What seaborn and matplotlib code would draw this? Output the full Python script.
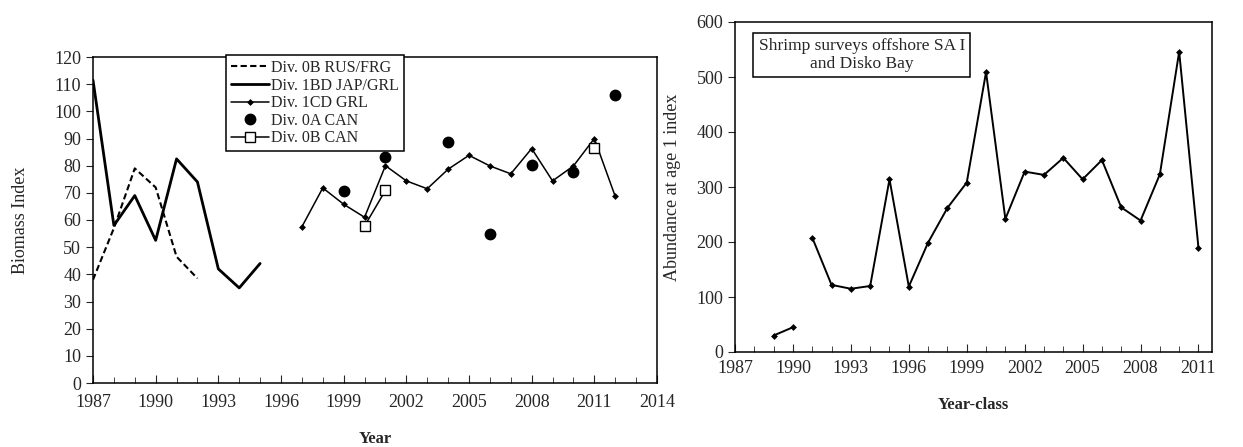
import numpy as np
import pandas as pd
import matplotlib
matplotlib.use('Agg')
import matplotlib.pyplot as plt
from matplotlib.ticker import MultipleLocator
import seaborn as sns

# ---------------------------------------------------------------
# datos
# ---------------------------------------------------------------
years_rus = [1987, 1988, 1989, 1990, 1991, 1992]
rus_frg = [38, 57, 79, 72, 46.5, 38.5]

years_1bd = [1987, 1988, 1989, 1990, 1991, 1992, 1993, 1994, 1995]
jap_grl = [111.5, 58, 69, 52.5, 82.5, 74, 42, 35, 44]

years_1cd = list(range(1997, 2013))
cd_grl = [57.5, 71.8, 65.8, 61, 80, 74.4, 71.5, 78.7, 83.8, 79.9, 77, 86.3,
          74.4, 79.9, 90, 68.7]

years_0a = [1999, 2001, 2004, 2006, 2008, 2010, 2012]
oa_can = [70.7, 83.2, 88.7, 54.7, 80.4, 77.7, 105.9]

years_0b = [2000, 2001, 2011]
ob_can = [57.8, 70.9, 86.5]
seg_0b = [0, 0, 1]

years_shrimp = list(range(1989, 2012))
shrimp = [30, 45, 208, 122, 115, 120, 314, 119, 199, 262, 308, 509, 242,
          328, 322, 353, 314, 349, 263, 239, 323, 546, 189]
seg_shrimp = [0, 0] + [1] * 21

xticks_left = list(range(1987, 2015, 3))
xticks_right = list(range(1987, 2012, 3))

# ---------------------------------------------------------------
sns.set_style('ticks')
plt.rcParams['font.family'] = ['Liberation Serif', 'DejaVu Serif']
plt.rcParams['axes.linewidth'] = 1.1

W, H = 1243, 447
fig = plt.figure(figsize=(W / 100, H / 100), dpi=100)
ax1 = fig.add_axes([93 / W, 1 - 383 / H, (657 - 93) / W, (383 - 57) / H])
ax2 = fig.add_axes([735 / W, 1 - 352 / H, (1212 - 735) / W, (352 - 22) / H])

# ---- panel izquierdo: biomasa ----
sns.lineplot(x=years_rus, y=rus_frg, ax=ax1, color='black', lw=1.5,
             linestyle=(0, (3, 1.6)), label='Div. 0B RUS/FRG')
sns.lineplot(x=years_1bd, y=jap_grl, ax=ax1, color='black', lw=2.0,
             label='Div. 1BD JAP/GRL')
sns.lineplot(x=years_1cd, y=cd_grl, ax=ax1, color='black', lw=1.1,
             marker='D', markersize=3.5, markeredgewidth=0,
             label='Div. 1CD GRL')
ax1.plot(years_0a, oa_can, 'o', color='black', markersize=7.5,
         label='Div. 0A CAN')
df0b = pd.DataFrame({'year': years_0b, 'val': ob_can, 'seg': seg_0b})
for s, grp in df0b.groupby('seg'):
    sns.lineplot(data=grp, x='year', y='val', ax=ax1, color='black', lw=1.1,
                 marker='s', markersize=6.5, markerfacecolor='white',
                 markeredgecolor='black', markeredgewidth=1.0,
                 label='Div. 0B CAN' if s == 0 else None)

ax1.set_xlim(1987, 2014)
ax1.set_ylim(0, 120)
ax1.set_xticks(xticks_left)
ax1.xaxis.set_minor_locator(MultipleLocator(1))
ax1.yaxis.set_major_locator(MultipleLocator(10))
ax1.tick_params(axis='x', which='both', direction='in', labelsize=13,
                pad=8)
ax1.tick_params(axis='x', which='major', length=6)
ax1.tick_params(axis='x', which='minor', length=4)
ax1.tick_params(axis='y', direction='out', length=5, labelsize=13)
ax1.set_xlabel('Year', fontsize=12, fontweight='bold', labelpad=14)
ax1.set_ylabel('Biomass Index', fontsize=13, labelpad=18)

h, l = ax1.get_legend_handles_labels()
order = ['Div. 0B RUS/FRG', 'Div. 1BD JAP/GRL', 'Div. 1CD GRL',
         'Div. 0A CAN', 'Div. 0B CAN']
hd = dict(zip(l, h))
leg = ax1.legend([hd[k] for k in order], order, loc='upper left',
                 bbox_to_anchor=(0.222, 1.03), fontsize=11.5,
                 frameon=True, fancybox=False, framealpha=1,
                 edgecolor='black', handlelength=2.4, handletextpad=0.1,
                 labelspacing=0.1, borderpad=0.3)
leg.get_frame().set_linewidth(1.1)

# ---- panel derecho: abundancia ----
dfs = pd.DataFrame({'year': years_shrimp, 'val': shrimp, 'seg': seg_shrimp})
sns.lineplot(data=dfs, x='year', y='val', units='seg', estimator=None,
             ax=ax2, color='black', lw=1.4, marker='D', markersize=3.5,
             markeredgewidth=0)
ax2.set_xlim(1987, 2011.7)
ax2.set_ylim(0, 600)
ax2.set_xticks(xticks_right)
ax2.xaxis.set_minor_locator(MultipleLocator(1))
ax2.yaxis.set_major_locator(MultipleLocator(100))
ax2.tick_params(axis='x', which='both', direction='in', labelsize=13,
                pad=6)
ax2.tick_params(axis='x', which='major', length=6)
ax2.tick_params(axis='x', which='minor', length=4)
ax2.tick_params(axis='y', direction='out', length=5, labelsize=13)
ax2.set_xlabel('Year-class', fontsize=12, fontweight='bold', labelpad=14)
ax2.set_ylabel('Abundance at age 1 index', fontsize=13, labelpad=11)
ax2.text(0.266, 0.9, 'Shrimp surveys offshore SA I\nand Disko Bay',
         transform=ax2.transAxes, ha='center', va='center', fontsize=12.5,
         multialignment='center', linespacing=1.1,
         bbox=dict(boxstyle='square,pad=0.3', fc='white', ec='black',
                   lw=1.1))

for ax in (ax1, ax2):
    for sp in ax.spines.values():
        sp.set_visible(True)
        sp.set_color('black')

fig.savefig('out.png', dpi=100)
